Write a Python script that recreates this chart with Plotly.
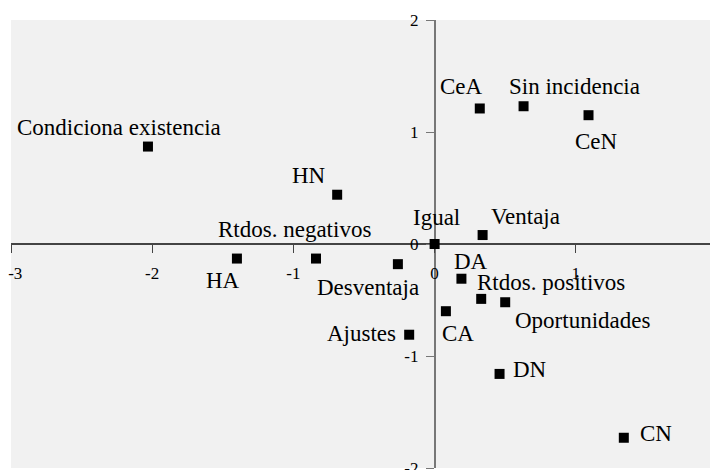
import plotly.graph_objects as go

# coordenadas de las categorias (dimension 1, dimension 2)
etiquetas = ['Condiciona existencia', 'HN', 'CeA', 'Sin incidencia', 'CeN', 'Igual',
             'Ventaja', 'HA', 'Rtdos. negativos', 'Desventaja', 'DA', 'Rtdos. positivos',
             'Oportunidades', 'CA', 'Ajustes', 'DN', 'CN']
dim1 = [-2.03, -0.69, 0.32, 0.63, 1.09, 0.00, 0.34, -1.40, -0.84, -0.26, 0.19, 0.33,
        0.50, 0.08, -0.18, 0.46, 1.34]
dim2 = [0.87, 0.44, 1.21, 1.23, 1.15, 0.00, 0.08, -0.13, -0.13, -0.18, -0.31, -0.49,
        -0.52, -0.60, -0.81, -1.16, -1.73]

ticks_x = [-3, -2, -1, 0, 1, 2]
ticks_y = [-2, -1, 0, 1, 2]

# desplazamiento de cada etiqueta respecto a su punto (px)
desplaz = [(-29, -19), (-28, -19), (-18, -22), (51, -20), (8, 26), (2, -27),
           (43, -19), (-14, 22), (-21, -29), (-30, 23), (10, -17), (70, -16),
           (77, 18), (12, 22), (-48, -1), (30, -4), (32, -4)]

fuente = 'Liberation Serif'

# el "-3" queda pegado al borde: se empuja un poco a la derecha
texto_x = [str(t) for t in ticks_x]
texto_x[0] = '\u2002' + texto_x[0]

fig = go.Figure()
fig.add_trace(go.Scatter(
    x=dim1, y=dim2, mode='markers',
    marker=dict(symbol='square', size=10, color='black'),
    hoverinfo='text', text=etiquetas
))

for et, x, y, (dx, dy) in zip(etiquetas, dim1, dim2, desplaz):
    fig.add_annotation(x=x, y=y, text=et, showarrow=False,
                       xshift=dx, yshift=-dy,
                       font=dict(family=fuente, size=23, color='black'))

fig.update_layout(
    width=718, height=470,
    margin=dict(l=3, r=9, t=12, b=10, autoexpand=False),
    paper_bgcolor='white',
    plot_bgcolor='#f1f1f1',
    showlegend=False,
    font=dict(family=fuente, size=17, color='black'),
    xaxis=dict(range=[-3, 2], tickvals=ticks_x, ticktext=texto_x,
               anchor='free', position=0.5, automargin=False,
               ticklabeloverflow='allow',
               showgrid=False, zeroline=False, showline=True, linecolor='#444',
               linewidth=1.5, ticks='outside', ticklen=8, tickcolor='#444',
               ticklabelstandoff=6, layer='below traces'),
    yaxis=dict(range=[-2, 2], tickvals=ticks_y, ticktext=[str(t) for t in ticks_y],
               anchor='free', position=0.6, automargin=False,
               ticklabeloverflow='allow',
               showgrid=False, zeroline=False, showline=True, linecolor='#777',
               linewidth=1.5, ticks='outside', ticklen=8, tickcolor='#777',
               ticklabelstandoff=4, layer='below traces'),
)

fig.write_html("out.html")
